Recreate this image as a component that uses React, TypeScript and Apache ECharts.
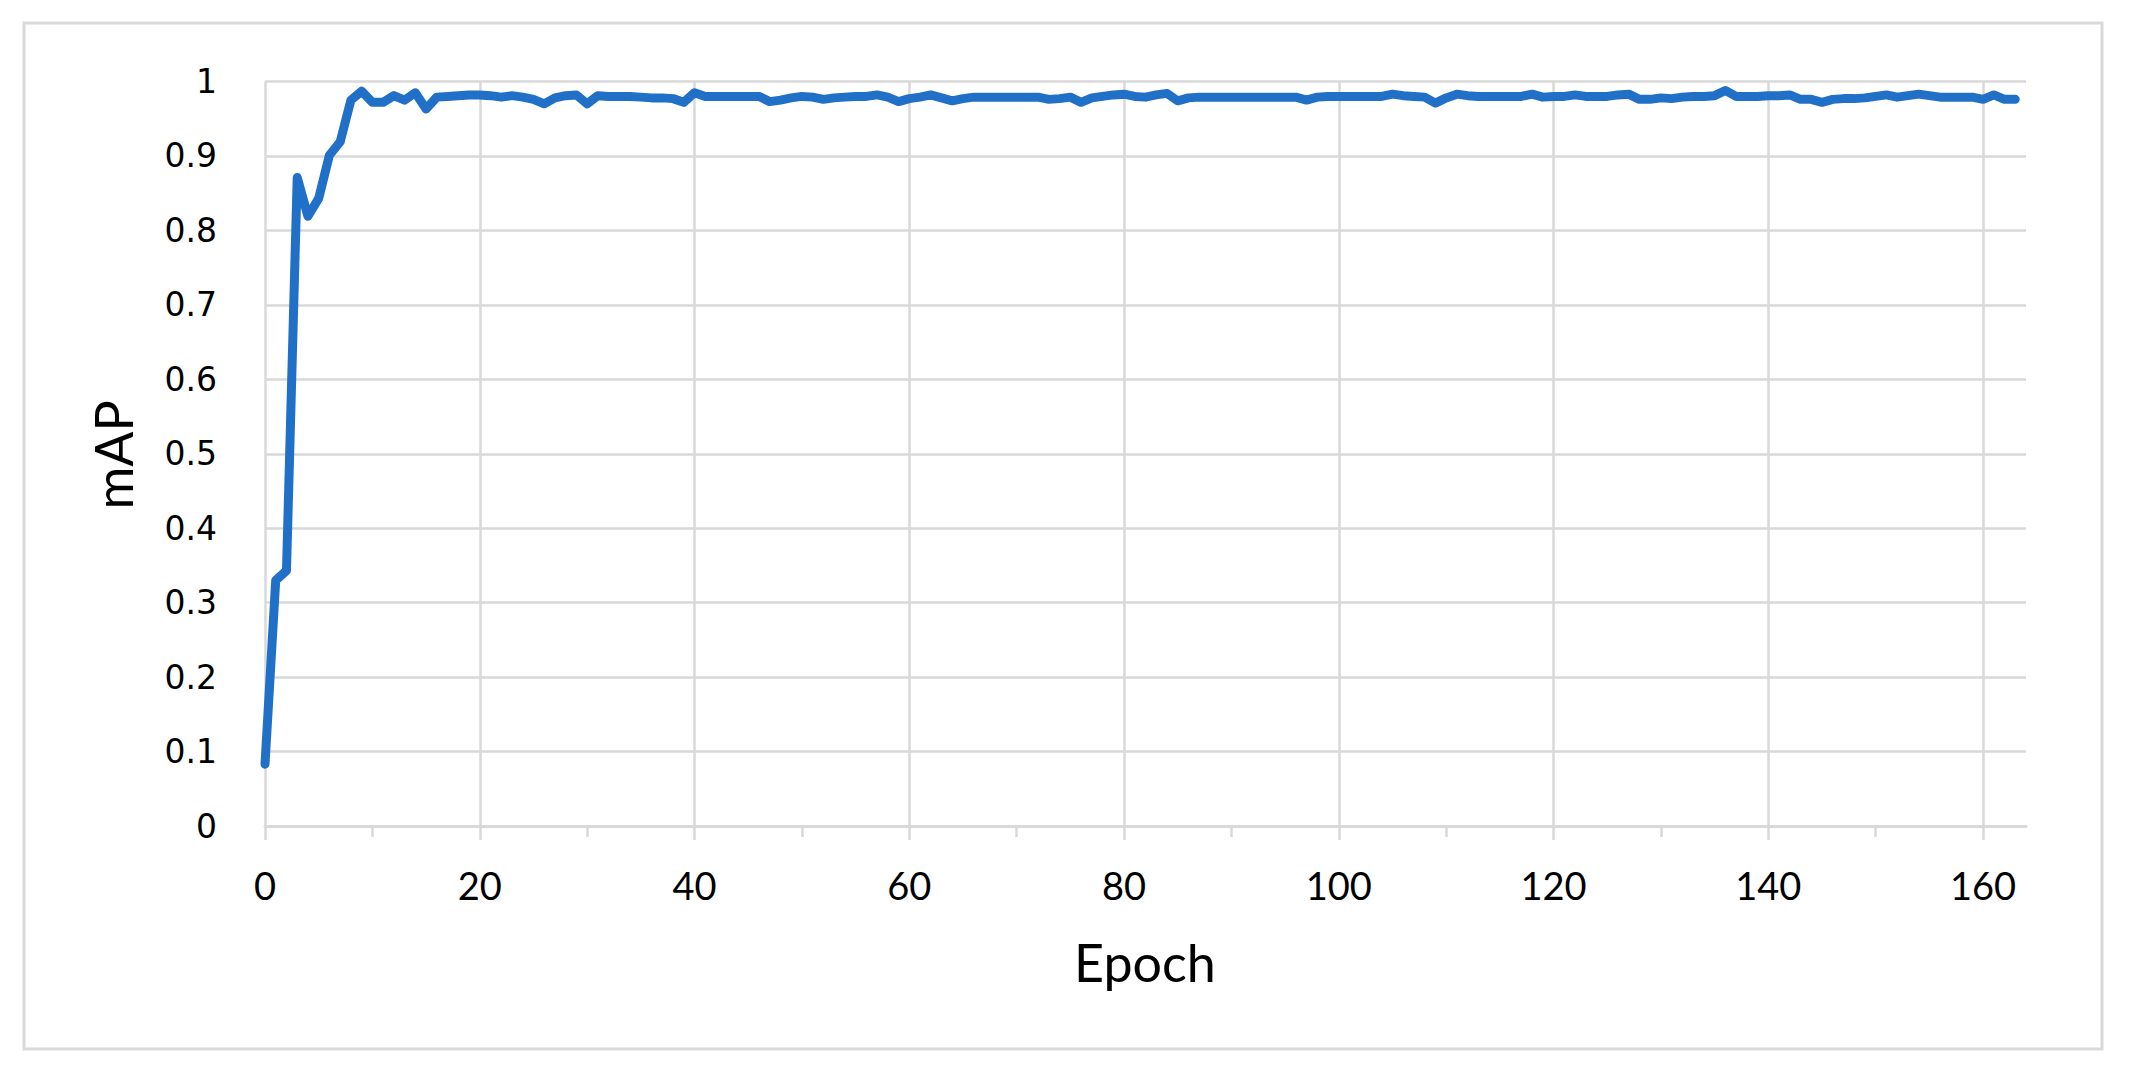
import React, { useEffect, useRef } from "react";
import * as echarts from "echarts";

// mAP per epoch
const mapValues: number[] = [
  0.083, 0.330, 0.343, 0.871, 0.819, 0.843, 0.901, 0.919, 0.975, 0.987,
  0.972, 0.972, 0.981, 0.975, 0.985, 0.963, 0.979, 0.980, 0.981, 0.982,
  0.982, 0.981, 0.979, 0.981, 0.979, 0.976, 0.970, 0.978, 0.981, 0.982,
  0.970, 0.981, 0.980, 0.980, 0.980, 0.979, 0.978, 0.978, 0.977, 0.972,
  0.985, 0.980, 0.980, 0.980, 0.980, 0.980, 0.980, 0.973, 0.975, 0.978,
  0.980, 0.979, 0.976, 0.978, 0.979, 0.980, 0.980, 0.982, 0.979, 0.973,
  0.977, 0.979, 0.982, 0.978, 0.974, 0.977, 0.979, 0.979, 0.979, 0.979,
  0.979, 0.979, 0.979, 0.976, 0.977, 0.979, 0.972, 0.978, 0.980, 0.982,
  0.983, 0.980, 0.979, 0.982, 0.984, 0.974, 0.978, 0.979, 0.979, 0.979,
  0.979, 0.979, 0.979, 0.979, 0.979, 0.979, 0.979, 0.975, 0.979, 0.980,
  0.980, 0.980, 0.980, 0.980, 0.980, 0.983, 0.981, 0.980, 0.979, 0.971,
  0.978, 0.983, 0.981, 0.980, 0.980, 0.980, 0.980, 0.980, 0.983, 0.979,
  0.980, 0.980, 0.982, 0.980, 0.980, 0.980, 0.982, 0.983, 0.976, 0.976,
  0.978, 0.977, 0.979, 0.980, 0.980, 0.981, 0.988, 0.980, 0.980, 0.980,
  0.981, 0.981, 0.982, 0.976, 0.976, 0.972, 0.976, 0.977, 0.977, 0.978,
  0.980, 0.982, 0.979, 0.981, 0.983, 0.981, 0.979, 0.979, 0.979, 0.979,
  0.976, 0.982, 0.976, 0.976,
];
const epochs: number[] = mapValues.map((_, i) => i);

const xMajorTicks = [0, 20, 40, 60, 80, 100, 120, 140, 160];
const xMinorTicks = [10, 30, 50, 70, 90, 110, 130, 150];
const xMin = 0;
const xMax = 164;
const yMin = 0;
const yMax = 1;
const yStep = 0.1;

const xTitle = "Epoch";
const yTitle = "mAP";

const GRID = "#d9d9d9";
const LINE = "#2170c8";

export default function App() {
  const ref = useRef<HTMLDivElement>(null);
  useEffect(() => {
    if (!ref.current) return;
    const chart = echarts.init(ref.current, null, {
      renderer: "svg",
      width: 2131,
      height: 1084,
    });
    chart.setOption({
      animation: false,
      backgroundColor: "#ffffff",
      grid: { left: 265, right: 105, top: 81.5, bottom: 258, containLabel: false },
      xAxis: [
        {
          type: "value",
          min: xMin,
          max: xMax,
          interval: 20,
          axisLine: { show: true, lineStyle: { color: GRID, width: 3 } },
          axisTick: {
            show: true,
            customValues: xMajorTicks,
            length: 14,
            lineStyle: { color: GRID, width: 2.5 },
          },
          axisLabel: {
            customValues: xMajorTicks,
            margin: 40,
            fontFamily: "Lato",
            fontSize: 38,
            color: "#000000",
          },
          splitLine: {
            show: true,
            lineStyle: { color: GRID, width: 2.5 },
          },
        },
        {
          type: "value",
          min: xMin,
          max: xMax,
          position: "bottom",
          axisLine: { show: false },
          axisTick: {
            show: true,
            customValues: xMinorTicks,
            length: 11,
            lineStyle: { color: GRID, width: 2.5 },
          },
          axisLabel: { show: false },
          splitLine: { show: false },
        },
      ],
      yAxis: {
        type: "value",
        min: yMin,
        max: yMax,
        interval: yStep,
        axisLine: { show: false },
        axisTick: { show: false },
        axisLabel: {
          margin: 48,
          fontFamily: "DejaVu Sans",
          fontSize: 33,
          color: "#000000",
          formatter: (v: number) =>
            v === 0 ? "0" : Math.abs(v - 1) < 1e-9 ? "1" : v.toFixed(1),
        },
        splitLine: { show: true, lineStyle: { color: GRID, width: 2.5 } },
      },
      series: [
        {
          type: "line",
          xAxisIndex: 0,
          data: epochs.map((e, i) => [e, mapValues[i]]),
          symbol: "none",
          showSymbol: false,
          lineStyle: { color: LINE, width: 9, cap: "round", join: "round" },
        },
      ],
      graphic: [
        {
          type: "rect",
          shape: { x: 24, y: 23, width: 2078, height: 1026 },
          style: { fill: "none", stroke: GRID, lineWidth: 3 },
          silent: true,
        },
        {
          type: "text",
          x: 1145,
          y: 962,
          style: {
            text: xTitle,
            fontFamily: "Lato",
            fontSize: 52,
            fill: "#000000",
            align: "center",
            verticalAlign: "middle",
          },
        },
        {
          type: "text",
          x: 113,
          y: 455,
          rotation: Math.PI / 2,
          style: {
            text: yTitle,
            fontFamily: "Lato",
            fontSize: 52,
            fill: "#000000",
            align: "center",
            verticalAlign: "middle",
          },
        },
      ],
    });
    return () => chart.dispose();
  }, []);
  return (
    <div
      ref={ref}
      style={{
        position: "fixed",
        left: 0,
        top: 0,
        width: 2131,
        height: 1084,
        background: "#ffffff",
      }}
    />
  );
}
